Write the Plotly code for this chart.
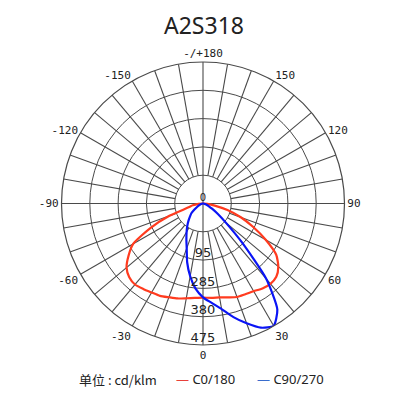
import plotly.graph_objects as go

# photometric data, cd/klm
theta = list(range(-90, 95, 5))
c0_180 = [0, 15, 35, 50, 120, 195, 270, 305, 335, 350, 355, 350, 345, 342, 335, 330, 323, 318, 316,
          318, 320, 326, 334, 336, 340, 348, 352, 348, 330, 300, 243, 185, 135, 85, 40, 15, 0]
c90_270 = [0, 2, 4, 7, 10, 15, 22, 35, 51, 62, 76, 92, 110, 132, 160, 205, 248, 287, 315,
           335, 360, 395, 428, 460, 474, 435, 330, 185, 100, 60, 35, 22, 14, 8, 4, 2, 0]

rings = [95, 190, 285, 380, 475]
radial_label_at = [190, 285, 380, 475]
radial_label_text = ['95', '285', '380', '475']

ang_vals = list(range(0, 360, 30))
ang_text = ['0', '30', '60', '90', '120', '150', '-/+180', '-150', '-120', '-90', '-60', '-30']

grid = '#4a4a4a'

fig = go.Figure()

# spokes: every 10 deg outside the first ring, main axes through centre
sp_t, sp_r = [], []
for a in range(0, 360, 10):
    sp_t += [a, a, None]
    sp_r += [0 if a % 90 == 0 else rings[0], rings[-1], None]
fig.add_trace(go.Scatterpolar(theta=sp_t, r=sp_r, mode='lines',
                              line=dict(color=grid, width=1.1),
                              hoverinfo='skip', showlegend=False))

fig.add_trace(go.Scatterpolar(theta=theta, r=c0_180, mode='lines', name='C0/180',
                              line=dict(color='#ff3b1f', width=2.2, shape='spline', smoothing=0.6)))
fig.add_trace(go.Scatterpolar(theta=theta, r=c90_270, mode='lines', name='C90/270',
                              line=dict(color='#0a14f5', width=2.2, shape='spline', smoothing=0.6)))

# radial labels along the 0 direction
fig.add_trace(go.Scatterpolar(theta=[0] * len(radial_label_at), r=[v - 20 for v in radial_label_at],
                              mode='text', text=radial_label_text,
                              textfont=dict(family='DejaVu Sans', size=13, color='#222222'),
                              hoverinfo='skip', showlegend=False))
fig.add_trace(go.Scatterpolar(theta=[0], r=[0], mode='text', text=['0'], textposition='top center',
                              textfont=dict(family='DejaVu Sans', size=10, color='#222222'),
                              hoverinfo='skip', showlegend=False))

fig.update_layout(
    width=400, height=400,
    margin=dict(l=0, r=0, t=0, b=0),
    paper_bgcolor='white',
    showlegend=False,
    polar=dict(
        domain=dict(x=[0.13375, 0.84125], y=[0.1575, 0.865]),
        bgcolor='white',
        angularaxis=dict(rotation=270, direction='counterclockwise',
                         tickmode='array', tickvals=ang_vals, ticktext=ang_text,
                         ticks='', showgrid=False, showline=True, linecolor=grid, linewidth=1.2,
                         tickfont=dict(family='DejaVu Sans Mono', size=11, color='#222222')),
        radialaxis=dict(range=[0, 475], tickmode='array', tickvals=rings,
                        showticklabels=False, ticks='', showline=False,
                        gridcolor=grid, gridwidth=1.1),
    ),
)

fig.add_annotation(text='A2S318', x=0.49, y=1 - 17 / 400, xref='paper', yref='paper',
                   yanchor='middle', showarrow=False,
                   font=dict(family='Noto Sans', size=23, color='#222222'))
fig.add_annotation(text='单位 : cd/klm', x=69 / 400, y=1 - 371 / 400, xref='paper', yref='paper',
                   xanchor='left', yanchor='middle', showarrow=False,
                   font=dict(family='Noto Sans CJK SC', size=13, color='#222222'))
fig.add_annotation(text="<span style='color:#e8403a'>—</span> C0/180", x=166 / 400, y=1 - 371 / 400,
                   xref='paper', yref='paper', xanchor='left', yanchor='middle', showarrow=False,
                   font=dict(family='Noto Sans', size=13, color='#222222'))
fig.add_annotation(text="<span style='color:#3a6ccc'>—</span> C90/270", x=247 / 400, y=1 - 371 / 400,
                   xref='paper', yref='paper', xanchor='left', yanchor='middle', showarrow=False,
                   font=dict(family='Noto Sans', size=13, color='#222222'))

fig.write_html('out.html')
